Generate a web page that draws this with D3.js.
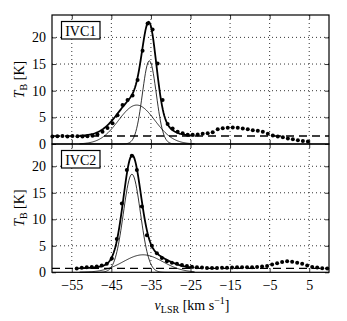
<!DOCTYPE html>
<html>
<head>
<meta charset="utf-8">
<script src="https://cdn.jsdelivr.net/npm/d3@7"></script>
<style>
  body { margin: 0; background: #fff; }
  text { font-family: "Liberation Serif", "DejaVu Serif", serif; fill: #000; }
</style>
</head>
<body>
<div id="chart"></div>
<script>
// channel grid of the spectra
var chanWidth = 1.266;
var ivc1Start = -59.9;
var ivc2Start = -53.75;

// measured brightness temperatures (dots)
var ivc1Tb = [1.4, 1.45, 1.5, 1.4, 1.5, 1.45, 1.4, 1.45, 1.55, 1.8,
  2.3, 3.0, 3.9, 5.4, 7.3, 8.25, 9.1, 12.0, 17.5, 22.6,
  21.5, 15.1, 8.25, 3.75, 2.9, 2.3, 2.0, 1.75, 1.75, 1.8,
  1.9, 2.0, 2.2, 2.75, 2.95, 3.05, 3.1, 3.05, 2.9, 2.75,
  2.6, 2.5, 2.3, 1.9, 1.6, 1.4, 1.25, 1.05, 0.9, 0.7,
  0.55, 0.45];
var ivc2Tb = [0.7, 0.85, 0.95, 1.0, 1.1, 1.3, 1.6, 2.6, 6.3, 13.0, 19.3, 22.0,
  19.3, 12.4, 7.0, 5.0, 3.6, 2.7, 2.1, 1.8, 1.6, 1.4,
  1.2, 1.05, 0.95, 0.9, 0.8, 0.8, 0.8, 0.85, 0.85, 0.9,
  0.95, 0.95, 0.95, 0.95, 1.0, 1.1, 1.2, 1.45, 1.7, 1.95,
  2.1, 2.0, 1.8, 1.6, 1.3, 1.0, 0.9, 0.75, 0.7];

// gaussian fit components (amplitude K, centre km/s, sigma km/s) and baselines
var ivc1Comps = [{amp: 7.3, v0: -38.6, sigma: 4.6}, {amp: 15.6, v0: -35.4, sigma: 1.75}];
var ivc2Comps = [{amp: 3.3, v0: -37.0, sigma: 5.0}, {amp: 18.5, v0: -39.8, sigma: 2.15}];
var ivc1Base = 1.5;
var ivc2Base = 0.75;
var fitRange = [-53, -24];

var velTicks = [-55, -45, -35, -25, -15, -5, 5];
var tbTicks = [0, 5, 10, 15, 20];
var panelNames = ["IVC1", "IVC2"];

var svgWidth = 347, svgHeight = 321;
var plotLeft = 52, plotRight = 329, plotTop = 15, plotMid = 144, plotBottom = 272.3;

var svg = d3.select("#chart").append("svg").attr("width", svgWidth).attr("height", svgHeight);

var xScale = d3.scaleLinear().domain([-60, 10]).range([plotLeft, plotRight]);

var panels = [
  {name: panelNames[0], tb: ivc1Tb, start: ivc1Start, comps: ivc1Comps, base: ivc1Base, y0: plotTop, y1: plotMid},
  {name: panelNames[1], tb: ivc2Tb, start: ivc2Start, comps: ivc2Comps, base: ivc2Base, y0: plotMid, y1: plotBottom}
];

function gauss(c, v) {
  return c.amp * Math.exp(-Math.pow(v - c.v0, 2) / (2 * c.sigma * c.sigma));
}

var fitVel = d3.range(fitRange[0], fitRange[1] + 0.001, 0.2);

panels.forEach(function(p, pi) {
  var yScale = d3.scaleLinear().domain([0, 24.2]).range([p.y1, p.y0]);
  var g = svg.append("g");

  // dotted grid
  g.selectAll(".vgrid").data(velTicks).enter().append("line")
    .attr("x1", d => xScale(d)).attr("x2", d => xScale(d))
    .attr("y1", p.y0).attr("y2", p.y1)
    .attr("stroke", "#000").attr("stroke-width", 0.8).attr("stroke-dasharray", "1,3");
  g.selectAll(".hgrid").data(tbTicks.slice(1)).enter().append("line")
    .attr("x1", plotLeft).attr("x2", plotRight)
    .attr("y1", d => yScale(d)).attr("y2", d => yScale(d))
    .attr("stroke", "#000").attr("stroke-width", 0.8).attr("stroke-dasharray", "1,3");

  // baseline
  g.append("line")
    .attr("x1", plotLeft).attr("x2", plotRight)
    .attr("y1", yScale(p.base)).attr("y2", yScale(p.base))
    .attr("stroke", "#000").attr("stroke-width", 1.3).attr("stroke-dasharray", "8,5");

  var line = d3.line().x(d => xScale(d[0])).y(d => yScale(d[1]));

  // components
  p.comps.forEach(function(c) {
    g.append("path")
      .datum(fitVel.map(v => [v, gauss(c, v)]))
      .attr("d", line).attr("fill", "none").attr("stroke", "#000").attr("stroke-width", 0.8);
  });

  // total fit
  g.append("path")
    .datum(fitVel.map(v => [v, p.base + d3.sum(p.comps, c => gauss(c, v))]))
    .attr("d", line).attr("fill", "none").attr("stroke", "#000").attr("stroke-width", 1.8);

  // data points
  g.selectAll(".dot").data(p.tb).enter().append("circle")
    .attr("cx", (d, i) => xScale(p.start + i * chanWidth))
    .attr("cy", d => yScale(d))
    .attr("r", 2).attr("fill", "#000");

  // axes with inward ticks
  var yAxisL = d3.axisLeft(yScale).tickValues(tbTicks).tickSize(-4).tickPadding(6).tickFormat(d3.format("d"));
  var yAxisR = d3.axisRight(yScale).tickValues(tbTicks).tickSize(-4).tickFormat("");
  var xAxisB = d3.axisBottom(xScale).tickValues(velTicks).tickSize(-4).tickPadding(8)
    .tickFormat(d => pi == 1 ? String(d).replace("-", "\u2212") : "");
  var xAxisT = d3.axisTop(xScale).tickValues(velTicks).tickSize(-4).tickFormat("");

  var ay = g.append("g").attr("transform", `translate(${plotLeft},0)`).call(yAxisL);
  g.append("g").attr("transform", `translate(${plotRight},0)`).call(yAxisR);
  var ax = g.append("g").attr("transform", `translate(0,${p.y1})`).call(xAxisB);
  g.append("g").attr("transform", `translate(0,${p.y0})`).call(xAxisT);
  g.selectAll(".domain").remove();
  g.selectAll(".tick line").attr("stroke", "#000").attr("stroke-width", 0.8);
  ay.selectAll("text").style("font-size", "14px").style("font-family", "Liberation Serif");
  ax.selectAll("text").style("font-size", "14px").style("font-family", "Liberation Serif");

  // frame
  g.append("rect").attr("x", plotLeft).attr("y", p.y0)
    .attr("width", plotRight - plotLeft).attr("height", p.y1 - p.y0)
    .attr("fill", "none").attr("stroke", "#000").attr("stroke-width", 1.2);

  // name box
  g.append("rect").attr("x", 61.5).attr("y", p.y0 + 6.5).attr("width", 38.5).attr("height", 17.5)
    .attr("fill", "#fff").attr("stroke", "#000").attr("stroke-width", 1.2);
  g.append("text").attr("x", 80.75).attr("y", p.y0 + 20.5)
    .attr("text-anchor", "middle").style("font-size", "14px").text(p.name);

  // y label
  var yl = g.append("text")
    .attr("transform", `translate(24,${(p.y0 + p.y1) / 2}) rotate(-90)`)
    .attr("text-anchor", "middle").style("font-size", "14px");
  yl.append("tspan").style("font-style", "italic").text("T");
  yl.append("tspan").attr("dy", 3).style("font-size", "10px").text("B");
  yl.append("tspan").attr("dy", -3).text(" [K]");
});

// x label
var xl = svg.append("text").attr("x", 192).attr("y", 310)
  .attr("text-anchor", "middle").style("font-size", "14px");
xl.append("tspan").style("font-style", "italic").text("v");
xl.append("tspan").attr("dy", 3).style("font-size", "10px").text("LSR");
xl.append("tspan").attr("dy", -3).text(" [km s");
xl.append("tspan").attr("dy", -6).style("font-size", "10px").text("\u22121");
xl.append("tspan").attr("dy", 6).text("]");
</script>
</body>
</html>
